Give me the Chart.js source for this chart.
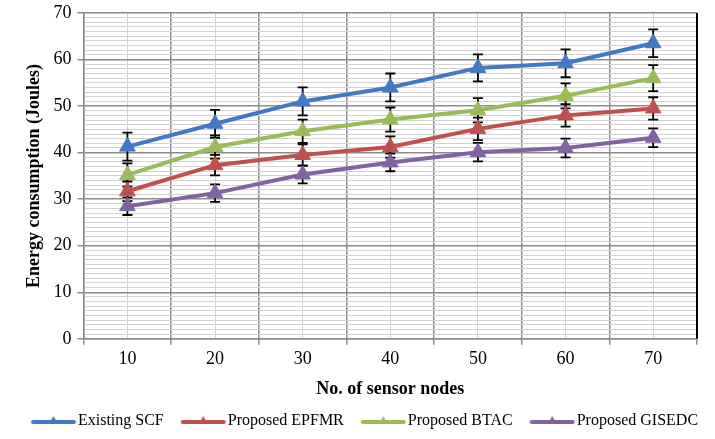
<!DOCTYPE html>
<html lang="en">
<head>
  <meta charset="UTF-8">
  <title>Energy consumption vs sensor nodes</title>
  <style>
    body { margin: 0; background: #fff; }
    #wrap { width: 715px; height: 439px; }
  </style>
</head>
<body>
  <div id="wrap"><canvas id="energyChart" width="715" height="439"></canvas></div>
  <script src="https://cdn.jsdelivr.net/npm/chart.js@4.4.1/dist/chart.umd.min.js"></script>
  <script>
    // x categories and y tick labels
    const nodes = [10, 20, 30, 40, 50, 60, 70];
    const yLabels = [0, 10, 20, 30, 40, 50, 60, 70];

    // series values (Joules)
    const scf = [41.3, 46.2, 51.0, 54.0, 58.2, 59.2, 63.5];
    const epfmr = [31.7, 37.3, 39.5, 41.2, 45.1, 48.0, 49.5];
    const btac = [35.2, 41.2, 44.6, 47.1, 49.1, 52.2, 56.0];
    const gisedc = [28.5, 31.3, 35.3, 37.9, 40.1, 41.0, 43.2];

    // error bar half-heights
    const scfErr = [3.0, 3.0, 3.0, 3.0, 2.9, 3.0, 3.0];
    const epfmrErr = [2.1, 2.2, 2.3, 2.3, 2.4, 2.4, 2.4];
    const btacErr = [2.5, 2.5, 2.5, 2.6, 2.6, 2.7, 2.8];
    const gisedcErr = [1.9, 1.9, 1.9, 1.9, 2.0, 2.0, 2.0];

    const FONT = "'Liberation Serif', 'Times New Roman', serif";
    const MAJOR = '#8c8c8c';
    const MINOR = '#d2d2d2';

    function series(label, values, errs, color) {
      return {
        label: label,
        data: nodes.map((n, i) => ({ x: n, y: values[i] })),
        errors: errs,
        borderColor: color,
        backgroundColor: color,
        borderWidth: 4,
        pointStyle: 'triangle',
        pointRadius: 9,
        pointHoverRadius: 9,
        pointBorderWidth: 1,
        tension: 0
      };
    }

    // legend sample: a little blank space, then a 45px line with a small triangle.
    // the line runs past the box so it stops 2px before the text
    const LEG_BOX = 53;
    const LEG_IMG = 2 * (LEG_BOX + 7);
    function legendIcon(color) {
      const c = document.createElement('canvas');
      c.width = LEG_IMG;
      c.height = 14;
      const off = (LEG_IMG - LEG_BOX) / 2;
      const end = off + LEG_BOX + 6;
      const g = c.getContext('2d');
      g.strokeStyle = color;
      g.fillStyle = color;
      g.lineWidth = 4;
      g.lineCap = 'round';
      g.beginPath();
      g.moveTo(end - 43, 8); g.lineTo(end - 2, 8);
      g.stroke();
      const cx = end - 22.5;
      g.beginPath();
      g.moveTo(cx, 2); g.lineTo(cx + 4.5, 10); g.lineTo(cx - 4.5, 10);
      g.closePath();
      g.fill();
      return c;
    }

    // error bars under the lines, solid right frame
    const errorBars = {
      id: 'errorBars',
      beforeDatasetsDraw(chart) {
        const ctx = chart.ctx;
        const xs = chart.scales.x, ys = chart.scales.y;
        const a = chart.chartArea;
        ctx.save();
        ctx.strokeStyle = '#000';
        ctx.lineWidth = 2;
        ctx.beginPath();
        ctx.moveTo(a.right, a.top); ctx.lineTo(a.right, a.bottom);
        ctx.stroke();
        ctx.lineWidth = 1.8;
        chart.data.datasets.forEach(ds => {
          ds.data.forEach((p, j) => {
            const e = ds.errors[j];
            const x = xs.getPixelForValue(p.x);
            const top = ys.getPixelForValue(p.y + e);
            const bot = ys.getPixelForValue(p.y - e);
            ctx.beginPath();
            ctx.moveTo(x, top); ctx.lineTo(x, bot);
            ctx.moveTo(x - 5, top); ctx.lineTo(x + 5, top);
            ctx.moveTo(x - 5, bot); ctx.lineTo(x + 5, bot);
            ctx.stroke();
          });
        });
        ctx.restore();
      }
    };

    const ctx = document.getElementById('energyChart').getContext('2d');
    const chart = new Chart(ctx, {
      type: 'line',
      data: {
        datasets: [
          series('Existing SCF', scf, scfErr, '#4179c4'),
          series('Proposed EPFMR', epfmr, epfmrErr, '#c0504d'),
          series('Proposed BTAC', btac, btacErr, '#9bbb59'),
          series('Proposed GISEDC', gisedc, gisedcErr, '#8064a2')
        ]
      },
      plugins: [errorBars],
      options: {
        responsive: false,
        animation: false,
        layout: {
          padding: 0
        },
        scales: {
          x: {
            type: 'linear',
            min: 5,
            max: 75,
            afterBuildTicks: function (scale) {
              const t = [];
              for (let v = 5; v <= 75; v += 5) t.push({ value: v });
              scale.ticks = t;
            },
            afterFit: function (scale) {
              scale.paddingRight = 18; // keep the plot off the right edge
            },
            title: {
              display: true,
              text: 'No. of sensor nodes',
              color: '#000',
              font: { family: FONT, size: 18, weight: 'bold' },
              padding: { top: 4, bottom: 10 }
            },
            ticks: {
              autoSkip: false,
              maxRotation: 0,
              padding: 4,
              color: '#000',
              font: { family: FONT, size: 18 },
              callback: function (value) {
                return nodes.includes(value) ? String(value) : '';
              }
            },
            grid: {
              tickLength: 6,
              color: function (c) {
                return c.tick.value % 10 === 5 ? MAJOR : MINOR;
              },
              lineWidth: function (c) {
                return c.tick.value % 10 === 5 ? 1.5 : 1;
              },
              tickColor: function (c) {
                return c.tick.value % 10 === 5 ? MAJOR : 'rgba(0,0,0,0)';
              },
              tickWidth: 1.5
            },
            border: { color: MAJOR, width: 1.5 }
          },
          y: {
            min: 0,
            max: 70,
            afterBuildTicks: function (scale) {
              const t = [];
              for (let v = 0; v <= 70; v += 1) t.push({ value: v });
              scale.ticks = t;
            },
            afterFit: function (scale) {
              scale.paddingTop = 13;
            },
            title: {
              display: true,
              text: 'Energy consumption (Joules)',
              color: '#000',
              font: { family: FONT, size: 18, weight: 'bold' },
              padding: { top: 24, bottom: 2 }
            },
            ticks: {
              autoSkip: false,
              padding: 6,
              color: '#000',
              font: { family: FONT, size: 18 },
              callback: function (value) {
                return yLabels.includes(value) ? String(value) : '';
              }
            },
            grid: {
              tickLength: 6,
              color: function (c) {
                return c.tick.value % 10 === 0 ? MAJOR : MINOR;
              },
              lineWidth: function (c) {
                return c.tick.value % 10 === 0 ? 1.5 : 1;
              },
              tickColor: function (c) {
                return c.tick.value % 10 === 0 ? MAJOR : 'rgba(0,0,0,0)';
              },
              tickWidth: 1.5
            },
            border: { color: MAJOR, width: 1.5 }
          }
        },
        plugins: {
          legend: {
            display: true,
            position: 'bottom',
            labels: {
              usePointStyle: true,
              pointStyleWidth: LEG_BOX,
              padding: 3,
              color: '#000',
              font: { family: FONT, size: 16 },
              generateLabels: function (chart) {
                const items = Chart.defaults.plugins.legend.labels.generateLabels(chart);
                return items.map(function (item, i) {
                  item.pointStyle = legendIcon(chart.data.datasets[i].borderColor);
                  return item;
                });
              }
            }
          },
          tooltip: { enabled: false }
        }
      }
    });
  </script>
</body>
</html>
